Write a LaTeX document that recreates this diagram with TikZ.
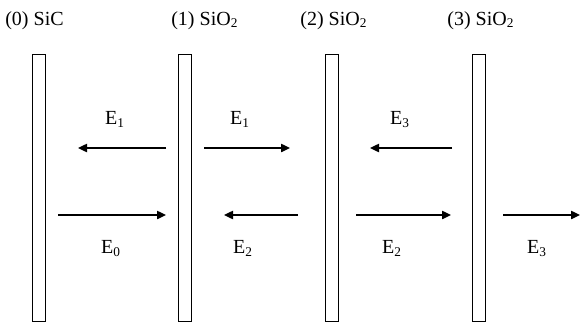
\documentclass[tikz,border=0pt]{standalone}
\usepackage{fontspec}
\setmainfont{Liberation Serif}
\usetikzlibrary{arrows.meta,positioning}

\begin{document}
\begin{tikzpicture}[
    x=0.6pt, y=-0.6pt,
    layer/.style={draw, line width=0.6pt, inner sep=0pt,
                  minimum width=7.8pt, minimum height=160.2pt},
    title/.style={anchor=base west, inner sep=0pt, font=\fontsize{12}{14}\selectfont},
    field/.style={anchor=base, inner sep=0pt, font=\fontsize{12}{14}\selectfont},
    wave/.style={-{Triangle[length=5.4pt, width=5pt]}, line width=0.8pt},
]
\useasboundingbox (0,0) rectangle (580,322);

% Layers
\node[layer] (L0) at (38.5, 187.5) {};
\node[layer] (L1) at (185, 187.5) {};
\node[layer] (L2) at (331.5, 187.5) {};
\node[layer] (L3) at (478.5, 187.5) {};

% Layer names
\node[title] (T0) at (5, 25) {(0) SiC};
\node[title] (T1) at (171, 25) {(1) SiO\textsubscript{2}};
\node[title] (T2) at (300, 25) {(2) SiO\textsubscript{2}};
\node[title] (T3) at (447, 25) {(3) SiO\textsubscript{2}};

% Arrow ends
\coordinate (a1) at (166, 148);  \coordinate (a2) at (78, 148);
\coordinate (b1) at (204, 148);  \coordinate (b2) at (290, 148);
\coordinate (c1) at (452, 148);  \coordinate (c2) at (370, 148);
\coordinate (d1) at (58, 215);   \coordinate (d2) at (166, 215);
\coordinate (e1) at (298, 215);  \coordinate (e2) at (224, 215);
\coordinate (f1) at (356, 215);  \coordinate (f2) at (451, 215);
\coordinate (g1) at (503, 215);  \coordinate (g2) at (580, 215);

% Upper waves
\draw[wave] (a1) -- (a2);
\draw[wave] (b1) -- (b2);
\draw[wave] (c1) -- (c2);
\node[field] (Ea) at (115, 124) {E\textsubscript{1}};
\node[field] (Eb) at (240, 124) {E\textsubscript{1}};
\node[field] (Ec) at (400, 124) {E\textsubscript{3}};

% Lower waves
\draw[wave] (d1) -- (d2);
\draw[wave] (e1) -- (e2);
\draw[wave] (f1) -- (f2);
\draw[wave] (g1) -- (g2);
\node[field] (Ed) at (111, 253) {E\textsubscript{0}};
\node[field] (Ee) at (243, 253) {E\textsubscript{2}};
\node[field] (Ef) at (392, 253) {E\textsubscript{2}};
\node[field] (Eg) at (537, 253) {E\textsubscript{3}};
\end{tikzpicture}
\end{document}
